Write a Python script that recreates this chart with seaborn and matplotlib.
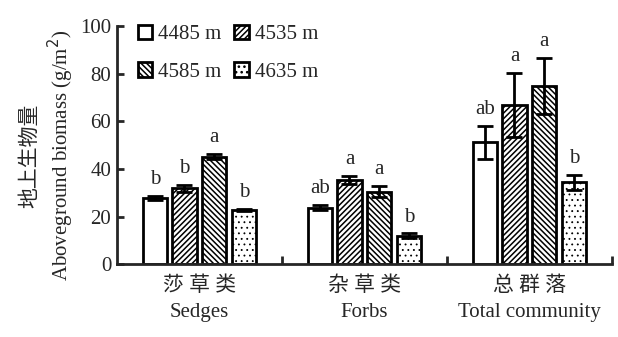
import numpy as np
import pandas as pd
import matplotlib
matplotlib.use("Agg")
import matplotlib.pyplot as plt
import seaborn as sns
from matplotlib.patches import Patch

# ---- data ----
groups = ["莎 草 类\nSedges", "杂 草 类\nForbs", "总 群 落\nTotal community"]
elevations = ["4485 m", "4535 m", "4585 m", "4635 m"]
biomass_4485 = [27.7, 23.8, 51.1]
biomass_4535 = [31.8, 35.4, 66.8]
biomass_4585 = [45.2, 30.5, 74.9]
biomass_4635 = [22.8, 11.9, 34.3]
err_4485 = [0.8, 1.2, 7.0]
err_4535 = [1.5, 1.8, 13.5]
err_4585 = [1.0, 2.5, 11.7]
err_4635 = [0.3, 1.0, 3.2]
letters_4485 = ["b", "ab", "ab"]
letters_4535 = ["b", "a", "a"]
letters_4585 = ["a", "a", "a"]
letters_4635 = ["b", "b", "b"]
yticks = [0, 20, 40, 60, 80, 100]

values = [biomass_4485, biomass_4535, biomass_4585, biomass_4635]
errs = [err_4485, err_4535, err_4585, err_4635]
letters = [letters_4485, letters_4535, letters_4585, letters_4635]

df = pd.DataFrame({
    "group": [g for _ in elevations for g in groups],
    "elev": [e for e in elevations for _ in groups],
    "value": [v for vs in values for v in vs],
})

sns.set_style("ticks")
plt.rcParams['font.family'] = ['Liberation Serif', 'Noto Sans CJK SC']
plt.rcParams['hatch.linewidth'] = 1.1

FS = 15
fig = plt.figure(figsize=(6.18, 3.37), dpi=100)
ax = fig.add_axes([0.189, 0.216, 0.801, 0.707])

sns.barplot(data=df, x="group", y="value", hue="elev", order=groups,
            hue_order=elevations, width=0.72, gap=0.18, errorbar=None,
            palette=["white"] * 4, edgecolor="black", linewidth=2.0,
            legend=False, ax=ax)

hatches = ["", "//////", "\\\\\\\\\\\\", "..."]
bar_containers = list(ax.containers)
for i, cont in enumerate(bar_containers):
    for j, patch in enumerate(cont.patches):
        patch.set_hatch(hatches[i])
        patch.set_facecolor("white")
        patch.set_edgecolor("black")
        if i == 3 and hasattr(patch, "set_hatch_linewidth"):
            patch.set_hatch_linewidth(0.6)
        x = patch.get_x() + patch.get_width() / 2
        h = patch.get_height()
        ax.errorbar(x, h, yerr=errs[i][j], color="black", elinewidth=2.0,
                    capsize=5.5, capthick=2.0, fmt="none", zorder=5)
        ax.annotate(letters[i][j], (x, h + errs[i][j]), xytext=(0, 5),
                    textcoords="offset points", ha="center", va="bottom",
                    fontsize=FS)

ax.set_xlim(-0.5, 2.5)
ax.set_ylim(0, 100)
ax.set_yticks(yticks)
ax.tick_params(axis="y", direction="in", length=5, width=2, labelsize=FS, pad=4)
ax.tick_params(axis="x", which="major", length=0, labelsize=FS, pad=9)
for lbl in ax.get_xticklabels():
    lbl.set_linespacing(1.45)
ax.set_xticks([0.5, 1.5, 2.5], minor=True)
ax.tick_params(axis="x", which="minor", direction="in", length=6, width=2)
ax.set_xlabel("")
ax.set_ylabel("地上生物量\nAboveground biomass (g/m$^{2}$)", fontsize=FS,
              linespacing=1.25, labelpad=3, y=0.455)
for sp in ["top", "right"]:
    ax.spines[sp].set_visible(False)
for sp in ["left", "bottom"]:
    ax.spines[sp].set_linewidth(2)

order = [0, 2, 1, 3]
handles = [Patch(facecolor="white", edgecolor="black", hatch=hatches[k],
                 linewidth=2) for k in order]
labels = [elevations[k] for k in order]
ax.legend(handles, labels, loc="upper left", bbox_to_anchor=(0.042, 1.005),
          ncol=2, frameon=False, fontsize=FS, handlelength=0.7,
          handleheight=0.7, handletextpad=0.3, columnspacing=0.6,
          labelspacing=0.85, borderpad=0, borderaxespad=0)

fig.savefig("out.png", dpi=100)
